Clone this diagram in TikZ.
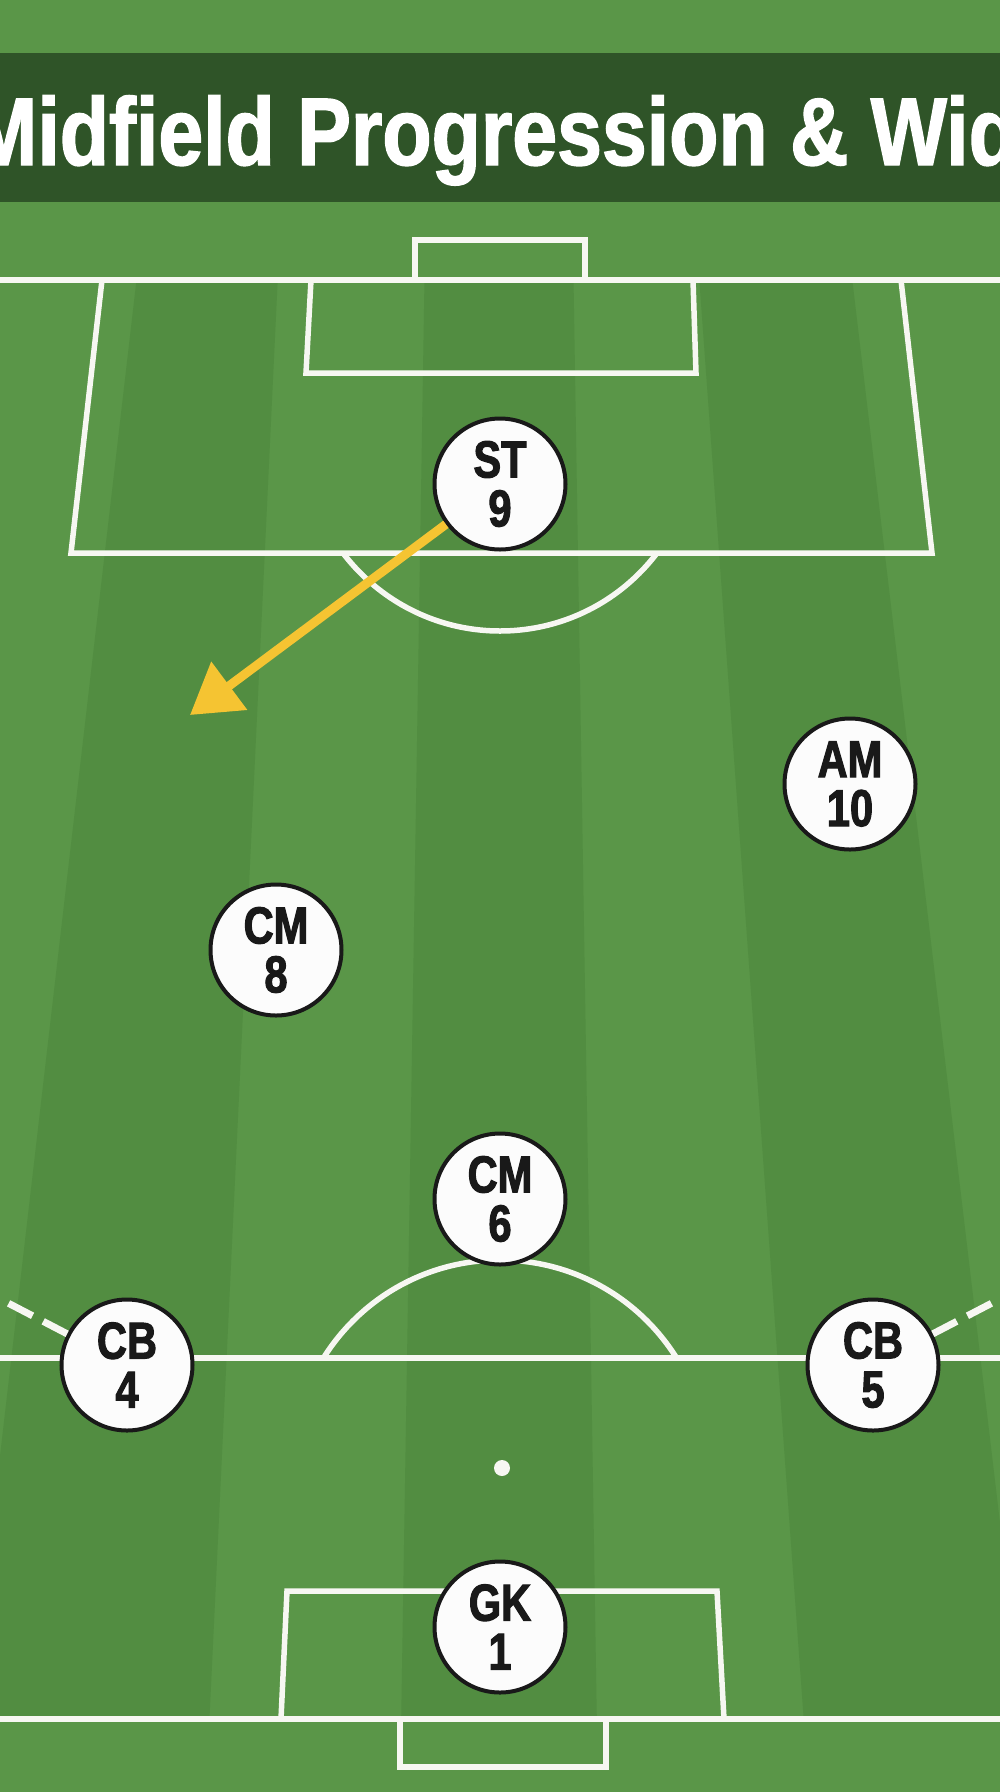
\documentclass[tikz,border=0pt]{standalone}
\usepackage{fontspec}
\usepackage{graphicx}
\usetikzlibrary{arrows.meta}
\newfontfamily\titlefont[FakeStretch=0.84,FakeBold=1.5]{Liberation Sans Bold}
\newfontfamily\playerfont[FakeStretch=0.8,FakeBold=2]{Liberation Sans Bold}
\definecolor{grass}{HTML}{5A9648}
\definecolor{grassdark}{HTML}{528D41}
\definecolor{barcol}{HTML}{2F5428}
\definecolor{runcol}{HTML}{F5C432}
\definecolor{pitchline}{HTML}{F7F7F2}
\begin{document}
\begin{tikzpicture}[x=1pt,y=-1pt,
  pline/.style={draw=pitchline,line width=5.5pt},
  player/.style={circle,draw=black!90,line width=4pt,fill=white!98!gray,minimum size=131pt,inner sep=0pt,align=center,
    font=\playerfont\fontsize{52}{49}\selectfont,text=black!90},
  runarrow/.style={draw=runcol,line width=9pt,-{Triangle[length=49pt,width=58pt]}},
  widthline/.style={draw=pitchline,line width=7pt,dash pattern=on 27pt off 12pt}
]
\useasboundingbox (0,0) rectangle (1000,1792);
\clip (0,0) rectangle (1000,1792);
% grass
\fill[grass] (0,0) rectangle (1000,1792);
\begin{scope}
  \clip (0,280) rectangle (1000,1719);
  \fill[grassdark] (169,0) -- (291,0) -- (206,1792) -- (-39,1792) -- cycle;
  \fill[grassdark] (429,0) -- (569,0) -- (598,1792) -- (400,1792) -- cycle;
  \fill[grassdark] (679,0) -- (819,0) -- (1032,1792) -- (809,1792) -- cycle;
\end{scope}
% title bar
\fill[barcol] (0,53) rectangle (1000,202);
\node[anchor=base west,inner sep=0pt,text=white,font=\titlefont\fontsize{96}{96}\selectfont] (title) at (-30,165) {Midfield Progression \& Width};
% top end
\draw[pline] (0,280) -- (1000,280);
\draw[pline] (415,280) -- (415,240) -- (585,240) -- (585,280);
\draw[pline] (311,280) -- (306,373) -- (696,373) -- (693,280);
\draw[pline] (102,280) -- (71,553) -- (932,553) -- (901,280);
\begin{scope}
  \clip (0,553) rectangle (1000,700);
  \draw[pline] (500,434) circle[radius=197];
\end{scope}
% halfway
\draw[pline] (0,1358) -- (1000,1358);
\begin{scope}
  \clip (0,1000) rectangle (1000,1358);
  \draw[pline] (500,1468) circle[radius=208];
\end{scope}
\fill[pitchline] (502,1468) circle[radius=8];
% bottom end
\draw[pline] (0,1719) -- (1000,1719);
\draw[pline] (281,1719) -- (287,1591) -- (717,1591) -- (724,1719);
\draw[pline] (400,1719) -- (400,1767) -- (606,1767) -- (606,1719);
% players
\node[player] (st) at (500,484) {ST\\9};
\node[player] (am) at (850,784) {AM\\10};
\node[player] (cm8) at (276,950) {CM\\8};
\node[player] (cm6) at (500,1199) {CM\\6};
\node[player] (cb4) at (127,1365) {CB\\4};
\node[player] (cb5) at (873,1365) {CB\\5};
\node[player] (gk) at (500,1627) {GK\\1};
% runs and width lines
\coordinate (runend) at (190,715);
\draw[runarrow] (st) -- (runend);
\coordinate (wl) at (-40,1278);
\coordinate (wr) at (1040,1278);
\draw[widthline] (cb4) -- (wl);
\draw[widthline] (cb5) -- (wr);
\end{tikzpicture}
\end{document}
